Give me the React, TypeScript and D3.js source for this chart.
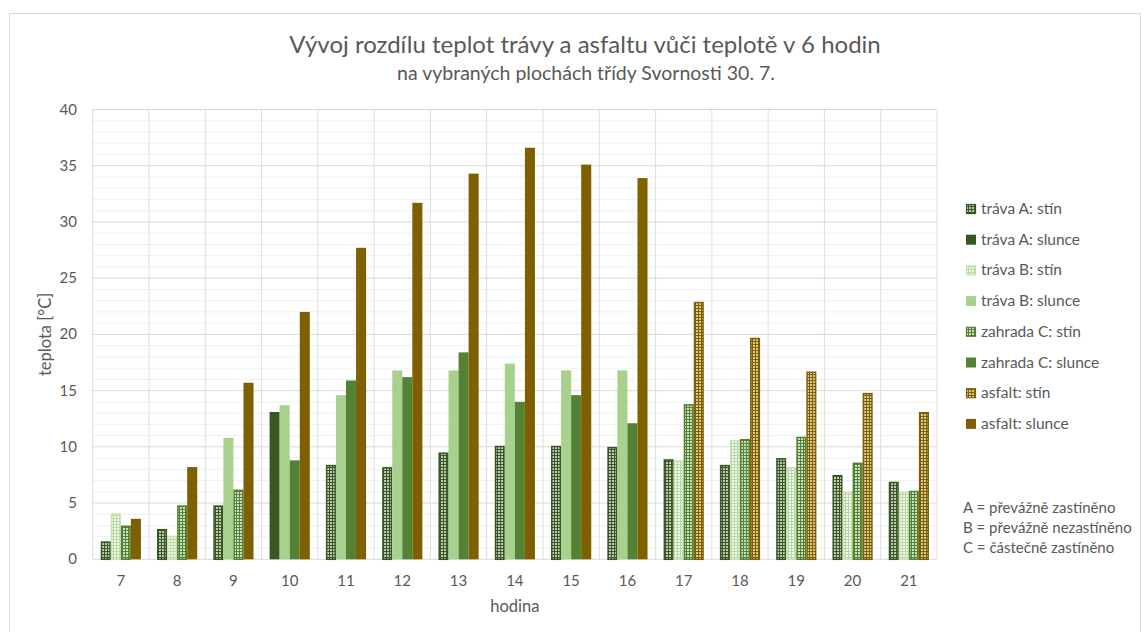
import React from "react";
import * as d3 from "d3";

const hours = ["7", "8", "9", "10", "11", "12", "13", "14", "15", "16", "17", "18", "19", "20", "21"];

const travaAStin = [1.6, 2.7, 4.8, null, 8.4, 8.2, 9.5, 10.1, 10.1, 10.0, 8.9, 8.4, 9.0, 7.5, 6.9];
const travaASlunce = [null, null, null, 13.1, null, null, null, null, null, null, null, null, null, null, null];
const travaBStin = [4.1, 2.1, null, null, null, null, null, null, null, null, 8.8, 10.6, 8.2, 6.0, 6.0];
const travaBSlunce = [null, null, 10.8, 13.7, 14.6, 16.8, 16.8, 17.4, 16.8, 16.8, null, null, null, null, null];
const zahradaCStin = [3.0, 4.8, 6.2, null, null, null, null, null, null, null, 13.8, 10.7, 10.9, 8.6, 6.1];
const zahradaCSlunce = [null, null, null, 8.8, 15.9, 16.2, 18.4, 14.0, 14.6, 12.1, null, null, null, null, null];
const asfaltStin = [null, null, null, null, null, null, null, null, null, null, 22.9, 19.7, 16.7, 14.8, 13.1];
const asfaltSlunce = [3.6, 8.2, 15.7, 22.0, 27.7, 31.7, 34.3, 36.6, 35.1, 33.9, null, null, null, null, null];

const yTicks = [0, 5, 10, 15, 20, 25, 30, 35, 40];

const seriesNames = [
  "tráva A: stín",
  "tráva A: slunce",
  "tráva B: stín",
  "tráva B: slunce",
  "zahrada C: stín",
  "zahrada C: slunce",
  "asfalt: stín",
  "asfalt: slunce",
];
const seriesValues = [travaAStin, travaASlunce, travaBStin, travaBSlunce, zahradaCStin, zahradaCSlunce, asfaltStin, asfaltSlunce];
const seriesSlot = [0, 0, 1, 1, 2, 2, 3, 3];
const seriesShade = [true, false, true, false, true, false, true, false];
const baseColors = ["#385723", "#385723", "#a9d18e", "#a9d18e", "#548235", "#548235", "#7f6000", "#7f6000"];
const patternBg = ["#385723", "", "#b7d9a1", "", "#548235", "", "#7f6000", ""];
const patternDot = ["#bfc9b8", "", "#f4f9f0", "", "#cfdfc4", "", "#d9c89c", ""];
const borderColors = ["#385723", "", "#c5e0b4", "", "#548235", "", "#7f6000", ""];

const notes = ["A = převážně zastíněno", "B = převážně nezastíněno", "C = částečně zastíněno"];

const FONT = "Lato, 'Open Sans', sans-serif";
const TXT = "#595959";

export default function App() {
  const W = 1147;
  const H = 632;
  const plotL = 92.7;
  const plotR = 937;
  const plotT = 109.5;
  const plotB = 559.3;

  const x0 = d3.scaleBand<string>().domain(hours).range([plotL, plotR]).padding(0);
  const x1 = d3
    .scaleBand<number>()
    .domain([0, 1, 2, 3])
    .range([0, x0.bandwidth()])
    .paddingInner(0)
    .paddingOuter(0.8);
  const y = d3.scaleLinear().domain([0, 40]).range([plotB, plotT]);

  const minor = d3.range(0, 41, 1).filter((v) => v % 5 !== 0);

  return (
    <svg width={W} height={H} style={{ display: "block", position: "absolute", left: 0, top: 0 }}>
      <defs>
        {seriesNames.map((n, i) =>
          seriesShade[i] ? (
            <pattern key={n} id={`pat${i}`} patternUnits="userSpaceOnUse" width={3} height={3}>
              <rect width={3} height={3} fill={patternBg[i]} />
              <rect x={0} y={0} width={2} height={2} fill={patternDot[i]} />
            </pattern>
          ) : null
        )}
      </defs>
      <rect x={0} y={0} width={W} height={H} fill="#ffffff" />
      <rect x={9.5} y={13.5} width={1131} height={640} fill="none" stroke="#d9d9d9" />

      {/* minor gridlines */}
      {minor.map((v) => (
        <line key={"m" + v} x1={plotL} x2={plotR} y1={y(v)} y2={y(v)} stroke="#f0f0f0" strokeWidth={1} />
      ))}
      {yTicks.map((v) => (
        <line key={"M" + v} x1={plotL} x2={plotR} y1={y(v)} y2={y(v)} stroke="#d9d9d9" strokeWidth={1} />
      ))}
      {hours.map((h) => (
        <line key={"v" + h} x1={x0(h)!} x2={x0(h)!} y1={plotT} y2={plotB} stroke="#dedede" strokeWidth={1} />
      ))}
      <line x1={plotR} x2={plotR} y1={plotT} y2={plotB} stroke="#dedede" strokeWidth={1} />

      {/* bars */}
      {seriesValues.map((vals, si) =>
        vals.map((v, hi) => {
          if (v == null) return null;
          const bx = x0(hours[hi])! + x1(seriesSlot[si])!;
          const bw = x1.bandwidth();
          const by = y(v);
          const bh = y(0) - by;
          if (seriesShade[si]) {
            return (
              <rect
                key={`b${si}-${hi}`}
                x={bx + 0.75}
                y={by + 0.75}
                width={bw - 1.5}
                height={bh - 0.75}
                fill={`url(#pat${si})`}
                stroke={borderColors[si]}
                strokeWidth={1.5}
              />
            );
          }
          return <rect key={`b${si}-${hi}`} x={bx} y={by} width={bw} height={bh} fill={baseColors[si]} />;
        })
      )}

      {/* y axis labels */}
      {yTicks.map((v) => (
        <text key={"yt" + v} x={77} y={y(v) + 5} textAnchor="end" fontFamily={FONT} fontSize={15} fill={TXT}>
          {v}
        </text>
      ))}
      {/* x axis labels */}
      {hours.map((h) => (
        <text
          key={"xt" + h}
          x={x0(h)! + x0.bandwidth() / 2}
          y={586}
          textAnchor="middle"
          fontFamily={FONT}
          fontSize={15}
          fill={TXT}
        >
          {h}
        </text>
      ))}
      <text x={(plotL + plotR) / 2} y={612} textAnchor="middle" fontFamily={FONT} fontSize={16.5} fill={TXT}>
        hodina
      </text>
      <text
        transform={`translate(51,${(plotT + plotB) / 2}) rotate(-90)`}
        textAnchor="middle"
        fontFamily={FONT}
        fontSize={16.5}
        fill={TXT}
      >
        teplota [°C]
      </text>

      {/* title */}
      <text x={585} y={53} textAnchor="middle" fontFamily={FONT} fontSize={24} fill={TXT}>
        Vývoj rozdílu teplot trávy a asfaltu vůči teplotě v 6 hodin
      </text>
      <text x={586} y={80} textAnchor="middle" fontFamily={FONT} fontSize={19.5} fill={TXT}>
        na vybraných plochách třídy Svornosti 30. 7.
      </text>

      {/* legend */}
      {seriesNames.map((n, i) => {
        const ly = 209 + i * 30.7;
        return (
          <g key={"lg" + n}>
            {seriesShade[i] ? (
              <rect
                x={966.5}
                y={ly - 4.5}
                width={9}
                height={9}
                fill={`url(#pat${i})`}
                stroke={borderColors[i]}
                strokeWidth={1.2}
              />
            ) : (
              <rect x={966} y={ly - 5} width={10} height={10} fill={baseColors[i]} />
            )}
            <text x={981} y={ly + 5} fontFamily={FONT} fontSize={15.5} fill={TXT}>
              {n}
            </text>
          </g>
        );
      })}

      {notes.map((t, i) => (
        <text key={"n" + i} x={963} y={513 + i * 20} fontFamily={FONT} fontSize={15} fill={TXT}>
          {t}
        </text>
      ))}
    </svg>
  );
}
